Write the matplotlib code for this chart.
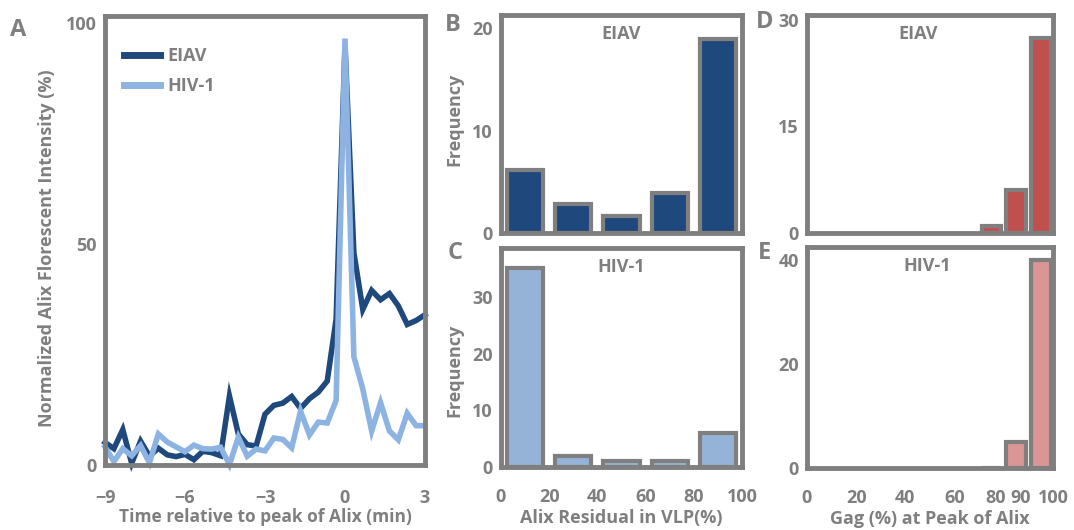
import numpy as np
import matplotlib
matplotlib.use("Agg")
import matplotlib.pyplot as plt

# ---- data ----
time_min = np.linspace(-9, 3, 37)  # one point every 20 s
eiav_alix = [5.1, 3.7, 8.0, 0.4, 5.4, 2.0, 3.8, 2.3, 1.9, 2.4, 1.2, 3.1, 2.8,
             2.1, 15.6, 7.0, 4.6, 4.3, 11.5, 13.5, 14.0, 15.5, 12.8, 15.0,
             16.5, 19.0, 33.0, 95.0, 48.0, 35.2, 39.5, 37.4, 38.8, 36.0,
             31.8, 32.7, 34.0]
hiv_alix = [4.1, 0.8, 3.7, 2.1, 4.4, 0.5, 7.0, 5.2, 4.1, 3.0, 4.5, 3.7, 3.6,
            4.0, 0.1, 6.3, 2.0, 3.6, 3.2, 6.1, 5.8, 3.9, 12.2, 6.8, 9.7, 9.5,
            14.6, 96.5, 24.5, 17.2, 7.7, 14.1, 7.7, 5.7, 11.7, 8.9, 8.9]

residual_bins = [10, 30, 50, 70, 90]
eiav_residual_freq = [6.2, 2.8, 1.7, 3.9, 19.0]
hiv_residual_freq = [35, 2, 1, 1, 6]

gag_bins = [75, 85, 95]
eiav_gag_freq = [1, 6, 27.4]
hiv_gag_freq = [0, 5, 40]

# ---- style ----
GRAY = "#7f7f7f"
FS = 13
plt.rcParams["font.family"] = ["Open Sans", "DejaVu Sans"]
plt.rcParams["font.weight"] = "bold"
plt.rcParams["text.color"] = GRAY
plt.rcParams["axes.labelcolor"] = GRAY
plt.rcParams["axes.labelweight"] = "bold"
plt.rcParams["xtick.color"] = GRAY
plt.rcParams["ytick.color"] = GRAY

W, H = 1074, 530
fig = plt.figure(figsize=(W / 100, H / 100), dpi=100)


def px_axes(left, top, right, bottom):
    return fig.add_axes([left / W, 1 - bottom / H, (right - left) / W, (bottom - top) / H])


def style(ax, xpad=4, ypad=6):
    for sp in ax.spines.values():
        sp.set_color(GRAY)
        sp.set_linewidth(3.5)
    ax.tick_params(length=0, labelsize=FS, pad=ypad, axis="y")
    ax.tick_params(length=0, labelsize=FS, pad=xpad, axis="x")


# ---- panel A ----
axA = px_axes(105, 16, 425, 465)
axA.plot(time_min, eiav_alix, color="#1f497d", lw=4, label="EIAV",
         solid_joinstyle="miter", clip_on=False)
axA.plot(time_min, hiv_alix, color="#8db3e2", lw=4, label="HIV-1",
         solid_joinstyle="miter", clip_on=False)
axA.set_xlim(-9, 3)
axA.set_ylim(0, 101.6)
axA.set_xticks([-9, -6, -3, 0, 3])
axA.set_yticks([0, 50, 100])
style(axA, xpad=17)
axA.set_xlabel("Time relative to peak of Alix (min)", fontsize=12.5, labelpad=1)
axA.set_ylabel("Normalized Alix Florescent Intensity (%)", fontsize=FS, labelpad=7)
axA.yaxis.label.set_y(0.483)
leg = axA.legend(loc="upper left", bbox_to_anchor=(0.06, 0.93), frameon=False,
                 fontsize=FS, handlelength=2.0, handletextpad=0.4,
                 labelspacing=0.65, borderpad=0, borderaxespad=0)
for t in leg.get_texts():
    t.set_color(GRAY)
for h in leg.get_lines():
    h.set_linewidth(5)

# ---- panels B and C ----
axB = px_axes(501, 15, 742, 233)
axB.bar(residual_bins, eiav_residual_freq, width=15, color="#1f497d",
        edgecolor=GRAY, linewidth=3)
axB.set_xlim(0, 100)
axB.set_ylim(0, 21.3)
axB.set_yticks([0, 10, 20])
axB.set_xticks([])
style(axB)
axB.set_ylabel("Frequency", fontsize=FS, labelpad=6)
axB.yaxis.label.set_y(0.52)
axB.text(0.5, 0.915, "EIAV", transform=axB.transAxes, ha="center", va="center",
         fontsize=FS)

axC = px_axes(501, 248, 742, 467)
axC.bar(residual_bins, hiv_residual_freq, width=15, color="#95b3d7",
        edgecolor=GRAY, linewidth=3)
axC.set_xlim(0, 100)
axC.set_ylim(0, 38.6)
axC.set_yticks([0, 10, 20, 30])
axC.set_xticks([0, 20, 40, 60, 80, 100])
style(axC, xpad=15)
axC.set_ylabel("Frequency", fontsize=FS, labelpad=6)
axC.yaxis.label.set_y(0.44)
axC.set_xlabel("Alix Residual in VLP(%)", fontsize=FS, labelpad=2)
axC.text(0.5, 0.913, "HIV-1", transform=axC.transAxes, ha="center", va="center",
         fontsize=FS)

# ---- panels D and E ----
axD = px_axes(807, 15, 1053, 233)
axD.bar(gag_bins, eiav_gag_freq, width=8, color="#c0504d",
        edgecolor=GRAY, linewidth=3)
axD.set_xlim(0, 100)
axD.set_ylim(0, 30.7)
axD.set_yticks([0, 15, 30])
axD.set_xticks([])
style(axD)
axD.text(0.45, 0.915, "EIAV", transform=axD.transAxes, ha="center", va="center",
         fontsize=FS)

axE = px_axes(807, 247, 1053, 468)
axE.bar(gag_bins, hiv_gag_freq, width=8, color="#d99694",
        edgecolor=GRAY, linewidth=3)
axE.set_xlim(0, 100)
axE.set_ylim(0, 42.5)
axE.set_yticks([0, 20, 40])
axE.set_xticks([0, 20, 40, 60, 76.5, 87, 100])
axE.set_xticklabels(["0", "20", "40", "60", "80", "90", "100"])
style(axE, xpad=15)
axE.set_xlabel("Gag (%) at Peak of Alix", fontsize=FS, labelpad=2)
axE.text(0.49, 0.913, "HIV-1", transform=axE.transAxes, ha="center", va="center",
         fontsize=FS)

# ---- panel letters ----
for letter, x, y in [("A", 18, 30), ("B", 453, 25), ("C", 455, 253),
                     ("D", 765, 22), ("E", 765, 253)]:
    fig.text(x / W, 1 - y / H, letter, fontsize=17, fontweight="bold",
             ha="center", va="center", color=GRAY)

fig.savefig("out.png", dpi=100)
